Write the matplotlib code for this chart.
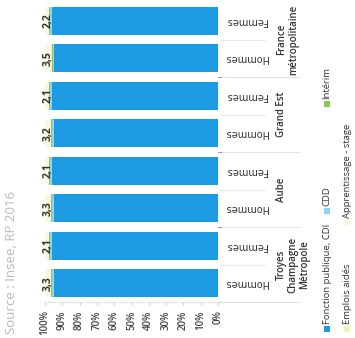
import matplotlib
matplotlib.use("Agg")
import matplotlib.pyplot as plt
from matplotlib.patches import Rectangle
import numpy as np

plt.rcParams["font.family"] = ["Open Sans", "DejaVu Sans"]

# Bars listed from top to bottom
zones = ["France\nmétropolitaine", "Grand Est", "Aube", "Troyes\nChampagne\nMétropole"]
sexes = ["Femmes", "Hommes"]
series = ["Fonction publique, CDI", "CDD", "Intérim", "Emplois aidés", "Apprentissage - stage"]

cdd = [0.8, 0.9, 0.8, 0.8, 0.8, 0.9, 0.8, 0.9]
interim = [0.5, 0.6, 0.5, 0.6, 0.5, 0.6, 0.5, 0.6]
aides = [0.4, 0.4, 0.4, 0.4, 0.4, 0.4, 0.4, 0.4]
value_labels = ["2,2", "3,5", "2,1", "3,2", "2,1", "3,3", "2,1", "3,3"]
apprentissage = [float(v.replace(",", ".")) for v in value_labels]
cdi = [100 - a - b - c - d for a, b, c, d in zip(cdd, interim, aides, apprentissage)]

ticks = list(range(0, 101, 10))
tick_labels = [f"{t}%" for t in ticks]
source = "Source : Insee, RP 2016"

colors = ["#1d9be2", "#8fd4f3", "#93c452", "#f4efb4", "#f7f7e4"]

W, H = 355, 338
fig = plt.figure(figsize=(W / 100, H / 100), dpi=100)
ax = fig.add_axes([45 / W, 1 - 302 / H, 173 / W, 300 / H])

n = len(cdi)
y = np.arange(n)
left = np.zeros(n)
for vals, col in zip([cdi, cdd, interim, aides, apprentissage], colors):
    ax.barh(y, vals, left=left, height=0.75, color=col, linewidth=0)
    left += np.array(vals)

ax.set_xlim(100, 0)
ax.set_ylim(n - 0.5, -0.5)

for i, lab in enumerate(value_labels):
    ax.text(98.0, i, lab, rotation=90, ha="center", va="center",
            fontsize=7.5, fontweight="bold", color="#333333")

ax.set_xticks(ticks)
ax.set_xticklabels(tick_labels, rotation=90, fontsize=7, color="#444444",
                   fontweight="semibold")
ax.tick_params(axis="x", length=2, color="#cccccc", pad=4)
ax.set_yticks([])
for s in ["top", "left", "right"]:
    ax.spines[s].set_visible(False)
ax.spines["bottom"].set_color("#dddddd")
ax.spines["bottom"].set_linewidth(0.6)

tr = ax.get_yaxis_transform()
px = lambda x: (x - 45) / 173

# Category labels, upside down, and group labels on the right side
for i in range(n):
    ax.text(px(246), i, sexes[i % 2], rotation=180, ha="center", va="center",
            fontsize=7, family="DejaVu Sans", color="#333333",
            transform=tr, clip_on=False)
for g, z in enumerate(zones):
    ax.text(px(276), 2 * g + 0.5, z, rotation=90, ha="left", va="center",
            multialignment="center", fontsize=7, fontweight="semibold",
            color="#333333", transform=tr, clip_on=False, linespacing=1.1)

# Separator lines
for yy in [0.5, 2.5, 4.5, 6.5]:
    ax.plot([px(220), px(265)], [yy, yy], color="#e4e4e4", lw=0.6,
            transform=tr, clip_on=False)
for yy in [1.5, 3.5, 5.5, 7.5]:
    ax.plot([px(218), px(300)], [yy, yy], color="#dddddd", lw=0.6,
            transform=tr, clip_on=False)
for yy in [1.5, 3.5, 5.5]:
    ax.plot([1.0, px(221)], [yy, yy], color="#888888", lw=0.6,
            transform=tr, clip_on=False)

# Legend drawn vertically
def legend_entry(xc, ysq, text, color):
    s = 6
    fig.patches.append(Rectangle(((xc - s / 2) / W, 1 - (ysq + s / 2) / H), s / W, s / H,
                                 transform=fig.transFigure, color=color, lw=0))
    fig.text(xc / W, 1 - (ysq - 5) / H, text, rotation=90, ha="center", va="bottom",
             fontsize=6.8, color="#333333")

legend_entry(327, 329, series[0], colors[0])
legend_entry(327, 211, series[1], colors[1])
legend_entry(327, 104, series[2], colors[2])
legend_entry(347, 329, series[3], colors[3])
legend_entry(347, 223, series[4], colors[4])

fig.text(12 / W, 1 - 334 / H, source, rotation=90, ha="center", va="bottom",
         fontsize=9.5, color="#b8b8b8")

fig.savefig("out.png", dpi=100)
